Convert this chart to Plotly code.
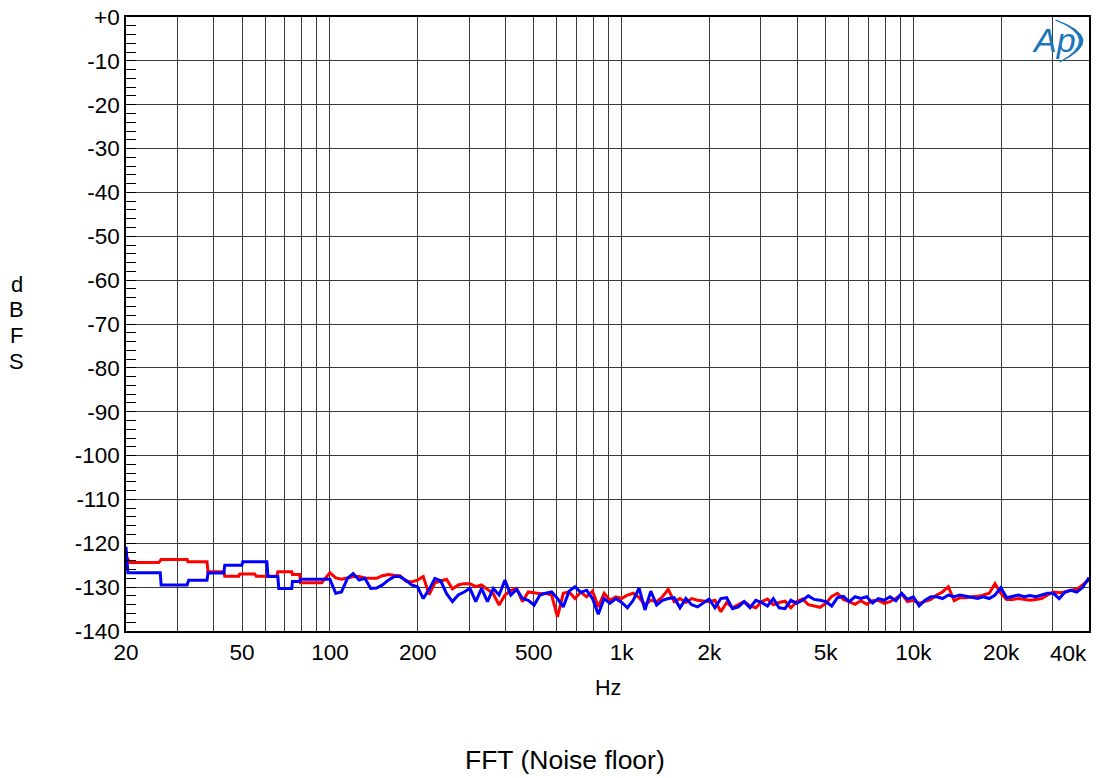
# -*- coding: utf-8 -*-
"""FFT noise floor, two channels (Audio Precision style plot)"""
import plotly.graph_objects as go

RED = "#ff0000"
BLUE = "#0000ff"
GRID = "#3a3a3a"
LOGO = "#1b75bb"
FONT = "Liberation Sans, Arial, sans-serif"
TICK_SIZE = 22.5

# --- low-frequency stepped part (Hz, dBFS) ---
RED_STEP_HZ = [20, 20.6, 25.9, 26.4, 32.4, 32.6, 37.9, 38.2, 43.3, 43.6, 48.7,
               49.1, 55.3, 55.9, 65.8, 66.3, 74.0, 74.4, 78.8, 79.3, 93.8]
RED_STEP_DB = [-122.9, -124.4, -124.4, -123.7, -123.7, -124.2, -124.2, -126.5,
               -126.5, -127.5, -127.5, -127.0, -127.0, -127.5, -127.5, -126.5,
               -126.5, -127.1, -127.1, -129.0, -129.0]
BLUE_STEP_HZ = [20, 20.3, 26.2, 26.4, 32.4, 32.8, 37.9, 38.2, 43.3, 43.6, 49.9,
                50.3, 60.8, 61.3, 66.3, 66.8, 74.0, 74.4, 78.8, 79.3, 96.0]
BLUE_STEP_DB = [-120.8, -126.7, -126.7, -129.5, -129.5, -128.4, -128.4, -126.8,
                -126.8, -125.0, -125.0, -124.2, -124.2, -127.6, -127.6, -130.3,
                -130.3, -128.7, -128.7, -128.2, -128.2]

# --- noisy part, shared frequency grid 100 Hz .. 40 kHz ---
NOISE_HZ = [
    100, 104.7, 109.6, 114.8, 120.2, 125.9, 131.8, 138.0, 144.5, 151.4,
    158.5, 166.0, 173.8, 182.0, 190.5, 199.5, 208.9, 218.8, 229.1, 239.9,
    251.2, 263.0, 275.4, 288.4, 302.0, 316.2, 331.1, 346.7, 363.1, 380.2,
    398.1, 416.9, 436.5, 457.1, 478.6, 501.2, 524.8, 549.5, 575.4, 602.6,
    631.0, 660.7, 691.8, 724.4, 758.6, 794.3, 831.8, 871.0, 912.0, 955.0,
    1000, 1047, 1096, 1148, 1202, 1259, 1318, 1380, 1445, 1514,
    1585, 1660, 1738, 1820, 1905, 1995, 2089, 2188, 2291, 2399,
    2512, 2630, 2754, 2884, 3020, 3162, 3311, 3467, 3631, 3802,
    3981, 4169, 4365, 4571, 4786, 5012, 5248, 5495, 5754, 6026,
    6310, 6607, 6918, 7244, 7586, 7943, 8318, 8710, 9120, 9550,
    10000, 10470, 10960, 11480, 12020, 12590, 13180, 13800, 14450, 15140,
    15850, 16600, 17380, 18200, 19050, 19950, 20890, 21880, 22910, 23990,
    25120, 26300, 27540, 28840, 30200, 31620, 33110, 34670, 36310, 38020,
    40000,
]
RED_DB = [
    -126.7, -127.9, -128.2, -127.9, -127.6, -127.6, -127.9, -128.0, -128.0, -127.4,
    -127.1, -127.3, -127.4, -128.6, -128.8, -128.4, -127.6, -131.7, -129.0, -128.6,
    -128.2, -130.4, -129.5, -129.2, -129.2, -129.9, -129.5, -130.5, -131.5, -134.1,
    -131.8, -130.8, -130.3, -133.3, -131.1, -131.3, -131.5, -131.4, -131.8, -136.8,
    -131.4, -131.1, -132.6, -131.1, -132.2, -130.9, -134.5, -131.4, -133.0, -132.2,
    -132.6, -131.8, -131.4, -132.4, -134.0, -133.0, -133.3, -132.2, -130.5, -133.3,
    -132.6, -133.5, -132.6, -133.0, -133.2, -133.3, -133.0, -135.6, -133.5, -134.7,
    -134.0, -133.3, -134.3, -134.7, -133.3, -132.7, -134.0, -133.5, -133.2, -134.7,
    -133.3, -132.7, -134.0, -134.3, -134.6, -133.7, -132.1, -131.4, -132.8, -133.3,
    -133.9, -133.1, -133.9, -133.1, -133.0, -133.7, -133.3, -132.6, -131.6, -133.3,
    -133.0, -133.7, -133.3, -132.8, -131.8, -131.1, -129.9, -133.1, -132.4, -132.4,
    -132.2, -132.1, -131.8, -131.4, -129.2, -131.4, -132.8, -132.8, -132.6, -132.8,
    -133.0, -132.8, -132.6, -131.8, -131.1, -131.3, -131.1, -130.7, -130.5, -129.5,
    -128.3,
]
BLUE_DB = [
    -128.2, -131.4, -131.1, -128.0, -126.9, -128.4, -128.0, -130.3, -130.2, -129.5,
    -128.4, -127.6, -127.6, -128.4, -129.5, -129.9, -132.6, -130.5, -128.0, -128.6,
    -131.5, -133.3, -131.8, -131.1, -130.3, -133.3, -130.3, -133.3, -130.3, -131.8,
    -128.4, -131.8, -130.5, -132.6, -133.0, -134.1, -131.8, -131.4, -131.1, -132.6,
    -134.5, -130.9, -129.9, -131.2, -130.7, -132.6, -136.2, -132.6, -133.7, -132.6,
    -133.5, -134.7, -133.0, -130.2, -135.2, -130.9, -134.1, -133.0, -132.6, -132.4,
    -134.7, -132.6, -134.0, -134.5, -133.5, -132.7, -134.7, -132.6, -132.4, -134.9,
    -134.5, -133.3, -134.7, -133.0, -133.5, -134.3, -132.6, -134.7, -134.9, -133.0,
    -133.7, -133.0, -132.0, -132.8, -133.0, -133.3, -134.3, -132.4, -132.1, -133.3,
    -132.2, -132.6, -132.2, -133.6, -132.6, -133.0, -132.2, -133.1, -131.4, -132.8,
    -132.2, -134.3, -133.0, -132.2, -132.2, -132.6, -131.8, -132.2, -131.8, -132.1,
    -132.4, -132.6, -132.2, -132.6, -131.8, -130.1, -132.4, -132.1, -131.8, -132.2,
    -131.9, -132.2, -131.8, -131.4, -131.4, -132.6, -131.1, -130.7, -131.1, -130.1,
    -127.8,
]

# --- axes ---
X_GRID_HZ = [20, 30, 40, 50, 60, 70, 80, 90, 100, 200, 300, 400, 500, 600, 700,
             800, 900, 1000, 2000, 3000, 4000, 5000, 6000, 7000, 8000, 9000,
             10000, 20000, 30000]
X_LABELED = {20: "20", 50: "50", 100: "100", 200: "200", 500: "500", 1000: "1k",
             2000: "2k", 5000: "5k", 10000: "10k", 20000: "20k"}
Y_TICKS = [0, -10, -20, -30, -40, -50, -60, -70, -80, -90, -100, -110, -120,
           -130, -140]
Y_LABELS = ["+0", "-10", "-20", "-30", "-40", "-50", "-60", "-70", "-80", "-90",
            "-100", "-110", "-120", "-130", "-140"]
Y_TITLE = ["d", "B", "F", "S"]

fig = go.Figure()
fig.add_trace(go.Scatter(
    x=RED_STEP_HZ + NOISE_HZ, y=RED_STEP_DB + RED_DB, mode="lines",
    line=dict(color=RED, width=3), name="Left",
))
fig.add_trace(go.Scatter(
    x=BLUE_STEP_HZ + NOISE_HZ, y=BLUE_STEP_DB + BLUE_DB, mode="lines",
    line=dict(color=BLUE, width=3), name="Right",
))

fig.update_layout(
    width=1096, height=778,
    margin=dict(l=126, r=7, t=17, b=147, autoexpand=False),
    paper_bgcolor="white", plot_bgcolor="white",
    font=dict(family=FONT, color="black", size=21),
    showlegend=False,
)
fig.update_xaxes(
    type="log", range=[1.30103, 4.60206], automargin=False,
    tickmode="array", tickvals=X_GRID_HZ,
    ticktext=[X_LABELED.get(v, "") for v in X_GRID_HZ],
    ticks="", showgrid=True, gridcolor=GRID, gridwidth=1,
    showline=True, mirror=True, linecolor="black", linewidth=1.5,
    zeroline=False, tickfont=dict(size=TICK_SIZE),
)
fig.update_yaxes(
    range=[-140, 0], tickmode="array", tickvals=Y_TICKS, ticktext=Y_LABELS,
    automargin=False,
    ticks="inside", ticklen=10, tickcolor="black",
    showgrid=True, gridcolor=GRID, gridwidth=1,
    showline=True, mirror=True, linecolor="black", linewidth=1.5,
    zeroline=False, tickfont=dict(size=TICK_SIZE),
    minor=dict(tickvals=[v for v in range(-138, 0, 2) if v % 10],
               ticks="inside", ticklen=10, tickcolor="black", showgrid=False),
)

# last x label sits inside the right edge
fig.add_annotation(text="40k", xref="paper", yref="paper", x=1.0, y=0,
                   xanchor="right", yanchor="top", yshift=-8, showarrow=False,
                   font=dict(size=TICK_SIZE))
fig.add_annotation(text="Hz", xref="paper", yref="paper", x=0.5, y=-0.093,
                   xanchor="center", yanchor="middle", showarrow=False,
                   font=dict(size=21.5))
# vertical, letter-stacked y title
for i, ch in enumerate(Y_TITLE):
    fig.add_annotation(text=ch, xref="paper", yref="paper",
                       x=-0.1132, y=0.5650 - i * 0.0418,
                       xanchor="center", yanchor="middle",
                       showarrow=False, font=dict(size=22))
fig.add_annotation(text="FFT (Noise floor)", xref="paper", yref="paper",
                   x=0.4557, y=-0.21, xanchor="center", yanchor="middle",
                   showarrow=False, font=dict(size=26.5))

# Ap logo
fig.add_annotation(text="<i>Ap</i>", xref="paper", yref="paper",
                   x=0.9634, y=0.9625, xanchor="center", yanchor="middle",
                   showarrow=False,
                   font=dict(size=34, color=LOGO, family=FONT))
fig.add_shape(type="path", xref="paper", yref="paper",
              path="M 0.9654,0.9951 Q 1.0199,0.9642 0.9696,0.9267 "
                   "Q 1.0127,0.9642 0.9654,0.9951 Z",
              fillcolor=LOGO, line=dict(color=LOGO, width=1))

fig.write_html("out.html", config={"displayModeBar": False},
               post_script="document.body.style.margin='0';"
                           "document.body.style.overflow='hidden';")
